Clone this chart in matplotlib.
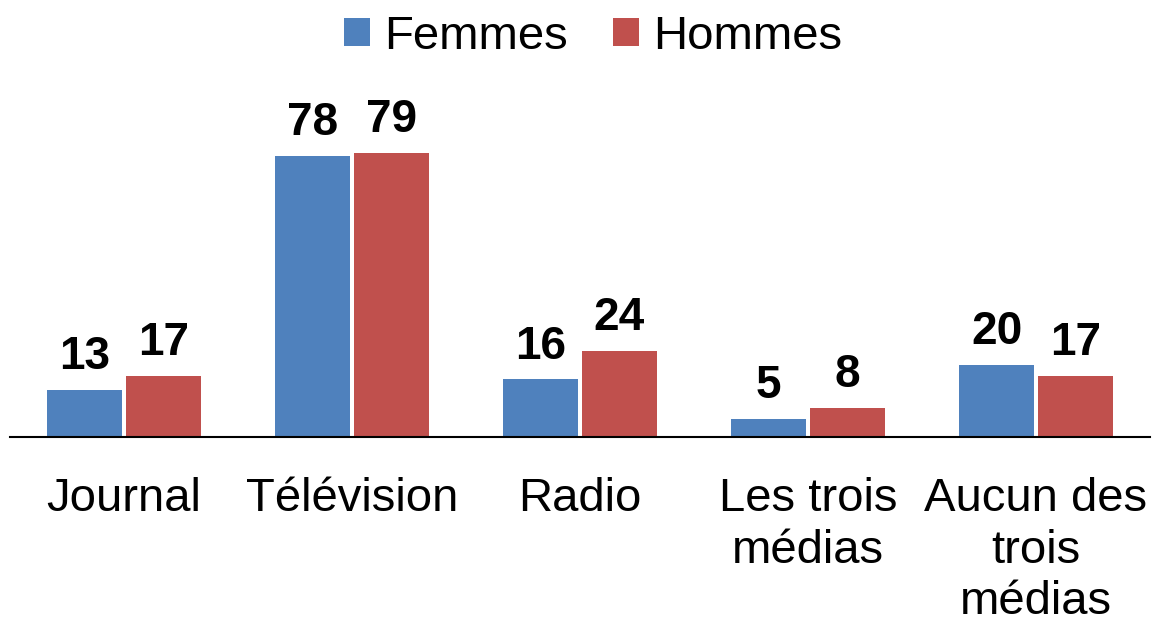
import matplotlib
matplotlib.use("Agg")
import matplotlib.pyplot as plt
import numpy as np

categories = ["Journal", "Télévision", "Radio", "Les trois\nmédias", "Aucun des\ntrois\nmédias"]
femmes = [13, 78, 16, 5, 20]
hommes = [17, 79, 24, 8, 17]
series_names = ["Femmes", "Hommes"]
colors = ["#4F81BD", "#C0504D"]

plt.rcParams['font.family'] = ['Liberation Sans', 'DejaVu Sans']

fig = plt.figure(figsize=(11.52, 6.2), dpi=100)
ax = fig.add_axes([10/1152, 183/620, 1140/1152, 360/620])

x = np.arange(len(categories))
w = 0.33
off = 0.173
b1 = ax.bar(x - off, femmes, w, color=colors[0], label=series_names[0])
b2 = ax.bar(x + off, hommes, w, color=colors[1], label=series_names[1])

for bars, vals in ((b1, femmes), (b2, hommes)):
    for r, v in zip(bars, vals):
        ax.annotate(str(v), (r.get_x() + r.get_width()/2, r.get_height()),
                    xytext=(0, 15), textcoords='offset points',
                    ha='center', va='baseline', fontsize=33, fontweight='bold')

ax.set_xlim(-0.5, len(categories) - 0.5)
ax.set_ylim(0, 100)
ax.set_xticks(x)
ax.set_xticklabels(categories, fontsize=34, linespacing=1.22)
ax.tick_params(axis='x', length=0, pad=29)
ax.set_yticks([])
for s in ['top', 'right', 'left']:
    ax.spines[s].set_visible(False)
ax.spines['bottom'].set_linewidth(1.5)
ax.spines['bottom'].set_color('black')

fig.legend(handles=[b1, b2], labels=series_names, loc='upper center',
           bbox_to_anchor=(593/1152, 1.045), ncol=2, frameon=False,
           fontsize=34, handlelength=0.55, handleheight=0.55,
           handletextpad=0.3, columnspacing=0.95)

fig.savefig("out.png", dpi=100)
